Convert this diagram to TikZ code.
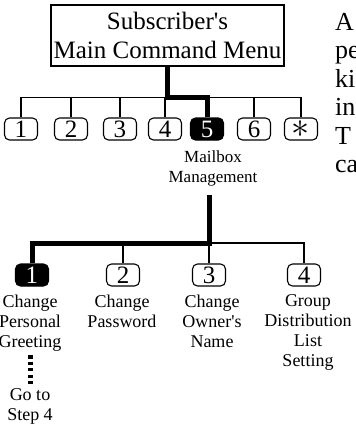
\documentclass[tikz,border=0pt]{standalone}
\usepackage{fontspec}
\setmainfont{Liberation Serif}
\usepackage{graphicx}
\usetikzlibrary{positioning}

\begin{document}
\begin{tikzpicture}[x=1pt,y=1pt]
  \tikzset{KeyStyle/.style = {shape          = rectangle,
                              rounded corners = 5pt,
                              draw           = black,
                              line width     = 1.1pt,
                              text           = black,
                              inner sep      = 0pt,
                              minimum width  = 33pt,
                              minimum height = 22pt,
                              font           = \fontsize{25}{25}\selectfont},
           SelKeyStyle/.style = {KeyStyle, fill=black, text=white},
           MenuStyle/.style = {shape=rectangle, draw=black, line width=1.1pt,
                               align=center, inner sep=0pt,
                               minimum width=233pt, minimum height=61pt,
                               font=\fontsize{25}{29}\selectfont},
           TagStyle/.style = {align=center, inner sep=0pt,
                              font=\fontsize{18}{20}\selectfont},
           WireStyle/.style = {line width=1.1pt},
           RouteStyle/.style = {line width=5pt},
           DotStyle/.style = {line width=5pt, dash pattern=on 3.2pt off 3.2pt}}
  \useasboundingbox (0,0) rectangle (356,-424);
  \clip (0,0) rectangle (356,-424);
  %%% MAIN MENU %%%
  \node[MenuStyle] (menu) at (167.5,-35.5) {Subscriber\textquotesingle s\\Main Command Menu};
  \node[KeyStyle] (k1) at (21,-129) {1};
  \node[KeyStyle] (k2) at (71,-129) {2};
  \node[KeyStyle] (k3) at (120,-129) {3};
  \node[KeyStyle] (k4) at (165,-129) {4};
  \node[SelKeyStyle] (k5) at (207,-129) {5};
  \node[KeyStyle] (k6) at (254,-129) {6};
  \node[KeyStyle] (kstar) at (301,-129) {\scalebox{1.45}{$\ast$}};
  \coordinate (topbus) at (0,-97.5);
  \draw[WireStyle] (k1.north) |- (kstar.north |- topbus) -- (kstar.north);
  \foreach \k in {2,3,4,6}
    \draw[WireStyle] (k\k.north) -- (k\k.north |- topbus);
  \draw[RouteStyle] (menu.south) |- (k5.north |- topbus) -- (k5.north);
  \node[TagStyle, font=\fontsize{17}{20}\selectfont, below=9.5pt of k5, xshift=6pt] (mbox) {Mailbox\\Management};
  %%% MAILBOX MANAGEMENT %%%
  \node[SelKeyStyle] (s1) at (32,-275) {1};
  \node[KeyStyle] (s2) at (123,-275) {2};
  \node[KeyStyle] (s3) at (209,-275) {3};
  \node[KeyStyle] (s4) at (304,-275) {4};
  \coordinate (drop) at (209,-195);
  \coordinate (lowbus) at (0,-243);
  \draw[WireStyle] (drop |- lowbus) -| (s4.north);
  \foreach \s in {2,3}
    \draw[WireStyle] (s\s.north) -- (s\s.north |- lowbus);
  \draw[RouteStyle] (drop) |- (s1.north |- lowbus) -- (s1.north);
  \node[TagStyle, below=8pt of s1, xshift=-2pt] (t1) {Change\\Personal\\Greeting};
  \node[TagStyle, below=8pt of s2, xshift=-1pt] (t2) {Change\\Password};
  \node[TagStyle, below=8pt of s3, xshift=3pt] (t3) {Change\\Owner\textquotesingle s\\Name};
  \node[TagStyle, below=8pt of s4, xshift=4pt] (t4) {Group\\Distribution\\List\\Setting};
  \node[TagStyle, below=37pt of t1] (goto) {Go to\\Step 4};
  \draw[DotStyle] ([yshift=-4pt]t1.south) -- ([yshift=4pt]goto.north);
  %%% NEXT COLUMN %%%
  \foreach \w [count=\i] in {A,pe,ki,in,T,ca}
    \node[anchor=base west, inner sep=0pt, font=\fontsize{26}{29}\selectfont] (edge\i) at (335,{-30-28.5*(\i-1)}) {\w};
\end{tikzpicture}
\end{document}
